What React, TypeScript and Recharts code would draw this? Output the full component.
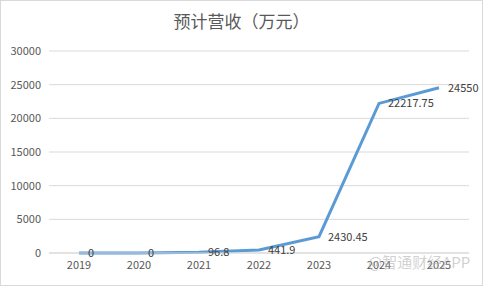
import React from 'react';
import { LineChart, Line, XAxis, YAxis, CartesianGrid, LabelList } from 'recharts';

const years = ['2019', '2020', '2021', '2022', '2023', '2024', '2025'];
const revenue = [0, 0, 96.8, 441.9, 2430.45, 22217.75, 24550];
const yTicks = [0, 5000, 10000, 15000, 20000, 25000, 30000];
const title = '预计营收（万元）';
const watermark = '@智通财经APP';

const data = years.map((y, i) => ({ year: y, value: revenue[i] }));
const font = '"Noto Sans CJK SC", "Noto Sans", sans-serif';

export default function App() {
  return (
    <div style={{ position: 'absolute', left: 0, top: 0, width: 483, height: 286, background: '#fff', fontFamily: font }}>
      <div style={{ position: 'absolute', left: 0, top: 0, width: 483, height: 286, border: '1px solid #d9d9d9', boxSizing: 'border-box', pointerEvents: 'none', zIndex: 2 }} />
      <div style={{ position: 'absolute', left: 0, top: 9, width: 483, textAlign: 'center', fontSize: 17, color: '#595959', lineHeight: '24px' }}>{title}</div>
      <LineChart width={483} height={286} data={data} margin={{ top: 51, right: 14, bottom: 8, left: 0 }}>
        <CartesianGrid horizontal vertical={false} stroke="#d9d9d9" />
        <XAxis dataKey="year" height={25} padding={{ left: 30, right: 30 }} axisLine={{ stroke: '#d9d9d9' }} tickLine={false} tick={{ fill: '#595959', fontSize: 11, fontFamily: font }} interval={0} />
        <YAxis width={49} domain={[0, 30000]} ticks={yTicks} axisLine={false} tickLine={false} tick={{ fill: '#595959', fontSize: 11, fontFamily: font }} interval={0} />
        <Line type="linear" dataKey="value" stroke="#5b9bd5" strokeWidth={3} dot={false} isAnimationActive={false}>
          <LabelList dataKey="value" position="right" offset={9} fill="#404040" fontSize={11} fontFamily={font} />
        </Line>
      </LineChart>
      <div style={{ position: 'absolute', left: 368, top: 253, fontSize: 15, color: 'rgba(170,170,170,0.55)', lineHeight: '18px', zIndex: 3 }}>{watermark}</div>
    </div>
  );
}
